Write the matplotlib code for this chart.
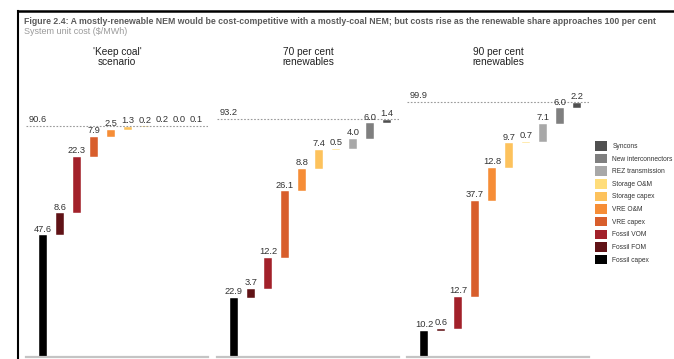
import numpy as np
import matplotlib
matplotlib.use("Agg")
import matplotlib.pyplot as plt
from matplotlib.patches import Patch
from matplotlib.lines import Line2D

plt.rcParams['font.family'] = ['Liberation Sans', 'DejaVu Sans']

# Cost components, bottom of the waterfall first
components = ['Fossil capex', 'Fossil FOM', 'Fossil VOM', 'VRE capex', 'VRE O&M',
              'Storage capex', 'Storage O&M', 'REZ transmission',
              'New interconnectors', 'Syncons']
colours = ['#000000', '#601216', '#a2212a', '#d85e2c', '#f68d36',
           '#fdc25c', '#ffdd7a', '#a8a8a8', '#7f7f7f', '#505050']

scenarios = ["'Keep coal'\nscenario", "70 per cent\nrenewables", "90 per cent\nrenewables"]

# $/MWh for each component
keep_coal = [47.6, 8.6, 22.3, 7.9, 2.5, 1.3, 0.2, 0.2, 0.0, 0.1]
re_70 = [22.9, 3.7, 12.2, 26.1, 8.8, 7.4, 0.5, 4.0, 6.0, 1.4]
re_90 = [10.2, 0.6, 12.7, 37.7, 12.8, 9.7, 0.7, 7.1, 6.0, 2.2]
totals = [90.6, 93.2, 99.9]

W, H = 674, 359
fig = plt.figure(figsize=(W / 100, H / 100), dpi=100)

# pixel helpers for placing things on the figure
def fx(px):
    return px / W

def fy(py):
    return 1 - py / H

fig.text(fx(24), fy(21), 'Figure 2.4: A mostly-renewable NEM would be cost-competitive with a '
         'mostly-coal NEM; but costs rise as the renewable share approaches 100 per cent',
         fontsize=6.35, fontweight='bold', color='#5a5a5a', va='center', ha='left')
fig.text(fx(24), fy(31.5), 'System unit cost ($/MWh)', fontsize=6.5, color='#9a9a9a',
         va='center', ha='left')

# frame round the figure
fig.add_artist(Line2D([fx(18), fx(18)], [0, fy(11)], transform=fig.transFigure,
                      color='black', lw=1.5))
fig.add_artist(Line2D([fx(18), 1], [fy(11), fy(11)], transform=fig.transFigure,
                      color='black', lw=1.8))

px_per_unit = 2.545
base_y = 356.5
top_y = 80
panel_left = [26, 217, 407]
panel_w = 182

for k, values in enumerate([keep_coal, re_70, re_90]):
    ax = fig.add_axes([fx(panel_left[k]), fy(base_y), panel_w / W, (base_y - top_y) / H])
    ax.set_xlim(-1, 9.7)
    ax.set_ylim(0, (base_y - top_y) / px_per_unit)
    ax.axis('off')

    values = np.array(values)
    bottoms = np.concatenate([[0], np.cumsum(values)[:-1]])
    x = np.arange(len(values))
    ax.bar(x, values, bottom=bottoms, width=0.47, color=colours,
           edgecolor='white', linewidth=0.3)

    for i in range(len(values)):
        ax.text(x[i], bottoms[i] + values[i] + 0.7, '{0:.1f}'.format(values[i]),
                ha='center', va='bottom', fontsize=6.7, color='#333333')

    # total cost line
    ax.axhline(totals[k], color='#9a9a9a', ls=(0, (1.5, 1.5)), lw=0.8)
    ax.text(-0.85, totals[k] + 0.8, '{0:.1f}'.format(totals[k]), ha='left',
            va='bottom', fontsize=6.7, color='#333333')

    ax.axhline(0, color='#c4c4c4', lw=1.6, clip_on=False)

    fig.text(fx(panel_left[k] + panel_w / 2), fy(57), scenarios[k], ha='center',
             va='center', fontsize=7.3, color='#222222', linespacing=1.0)

handles = [Patch(facecolor=c, edgecolor='none', label=l) for c, l in zip(colours, components)]
fig.legend(handles=handles[::-1], loc='upper left', bbox_to_anchor=(fx(595), fy(141)),
           frameon=False, fontsize=4.75, handlelength=1.85, handleheight=1.85,
           labelspacing=0.47, handletextpad=0.8, borderpad=0, borderaxespad=0,
           labelcolor='#333333')

fig.savefig('out.png', dpi=100)
